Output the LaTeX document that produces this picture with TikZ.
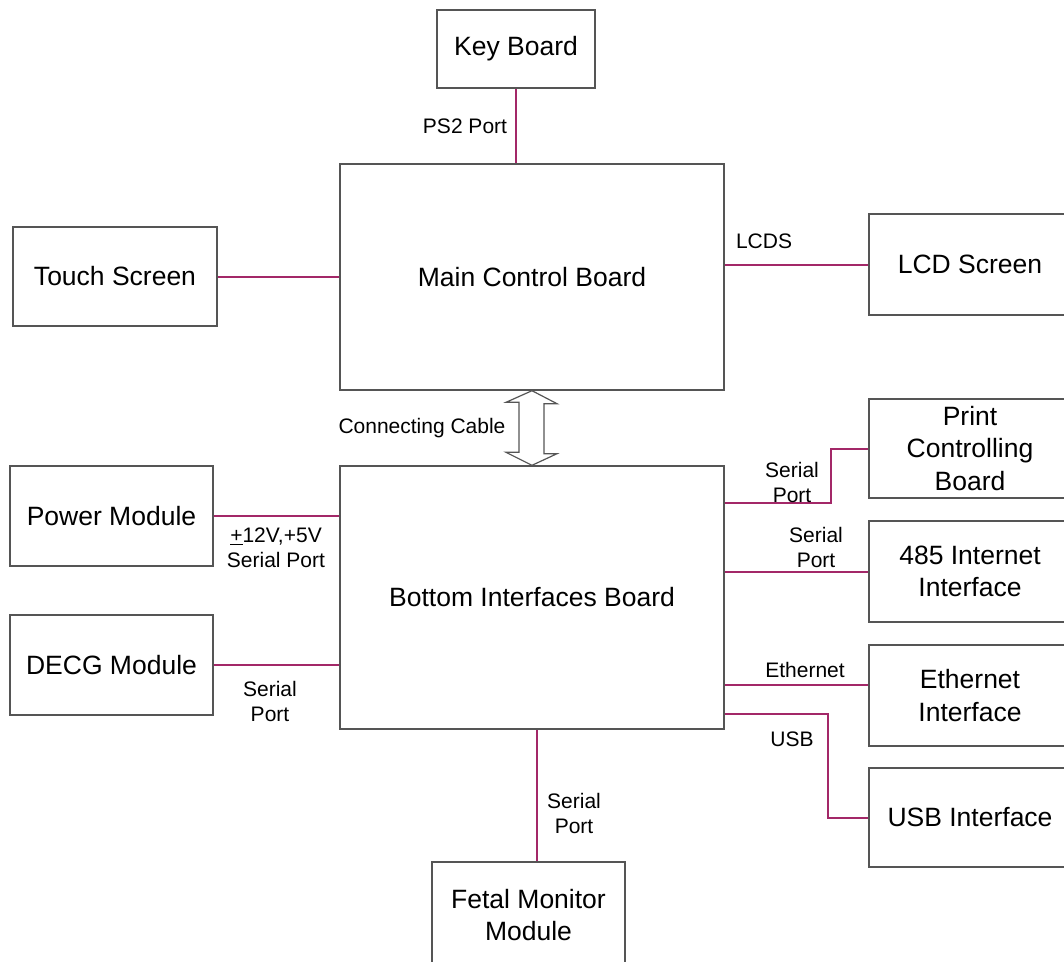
\documentclass[tikz,border=0pt]{standalone}
\usepackage{fontspec}
\setmainfont{Liberation Sans}
\usetikzlibrary{calc}
\definecolor{wire}{RGB}{163,40,104}
\definecolor{edge}{RGB}{85,85,85}
\tikzset{
  blk/.style={draw=edge, line width=1.4pt, fill=white, rectangle, inner sep=0pt, align=center,
    font=\fontsize{26.5}{32.5}\selectfont},
  lbl/.style={inner sep=0pt, align=center, font=\fontsize{21}{25}\selectfont},
  wirel/.style={draw=wire, line width=2pt},
}
\begin{document}
\begin{tikzpicture}[x=1pt,y=-1pt]
\useasboundingbox (0,0) rectangle (1064,961);
% boxes
\node[blk, minimum width=158, minimum height=78] (kb) at (516,49) {Key Board};
\node[blk, minimum width=384, minimum height=226] (mcb) at (532,277) {Main Control Board};
\node[blk, minimum width=204, minimum height=99] (ts) at (115,276.5) {Touch Screen};
\node[blk, minimum width=202, minimum height=101] (lcd) at (970,264.5) {LCD Screen};
\node[blk, minimum width=202, minimum height=99] (pcb) at (970,448.5) {Print\\Controlling\\Board};
\node[blk, minimum width=202, minimum height=101] (i485) at (970,571.5) {485 Internet\\Interface};
\node[blk, minimum width=202, minimum height=101] (eth) at (970,695.5) {Ethernet\\Interface};
\node[blk, minimum width=202, minimum height=99] (usb) at (970,817.5) {USB Interface};
\node[blk, minimum width=203, minimum height=100] (pm) at (111.5,516) {Power Module};
\node[blk, minimum width=203, minimum height=100] (decg) at (111.5,665) {DECG Module};
\node[blk, minimum width=384, minimum height=263] (bib) at (532,597.5) {Bottom Interfaces Board};
\node[blk, minimum width=193, minimum height=106] (fmm) at (528.5,915) {Fetal Monitor\\Module};
% connector anchor points
\coordinate (fs) at ($(bib.south)+(5,0)$);
\coordinate (ps) at ($(bib.east |- pcb.west)+(0,54.5)$);
\coordinate (es) at ($(eth.west -| bib.east)+(0,-10.5)$);
\coordinate (ee) at ($(eth.west)+(0,-10.5)$);
\coordinate (us) at ($(bib.east |- usb.west)+(0,-103.5)$);
% connectors
\draw[wirel] (kb.south) -- (kb.south |- mcb.north);
\draw[wirel] (ts.east) -- (ts.east -| mcb.west);
\draw[wirel] (lcd.west -| mcb.east) -- (lcd.west);
\draw[wirel] (pm.east) -- (pm.east -| bib.west);
\draw[wirel] (decg.east) -- (decg.east -| bib.west);
\draw[wirel] (ps) -- ++(106,0) |- (pcb.west);
\draw[wirel] (i485.west -| bib.east) -- (i485.west);
\draw[wirel] (es) -- (ee);
\draw[wirel] (us) -- ++(103,0) |- (usb.west);
\draw[wirel] (fs) -- (fs |- fmm.north);
% double arrow
\draw[draw=edge, line width=1.2pt, fill=white, line join=miter]
  (mcb.south) -- ++(25,13) -- ++(-13,0) -- ++(0,50) -- ++(13,0) -- (bib.north)
  -- ++(-26,-13) -- ++(13,0) -- ++(0,-50) -- ++(-13,0) -- cycle;
% labels
\node[lbl] (lps2) at (465,126) {PS2 Port};
\node[lbl] (llcds) at (764,241) {LCDS};
\node[lbl] (lcc) at (422,428) {Connecting Cable};
\node[lbl] (lpm) at (276,548) {\underline{+}12V,+5V\\Serial Port};
\node[lbl] (ldecg) at (270,701) {Serial\\Port};
\node[lbl] (lpcb) at (792,482) {Serial\\Port};
\node[lbl] (l485) at (816,547) {Serial\\Port};
\node[lbl] (leth) at (805,670) {Ethernet};
\node[lbl] (lusb) at (792,739) {USB};
\node[lbl] (lfmm) at (574,813) {Serial\\Port};
\end{tikzpicture}
\end{document}
